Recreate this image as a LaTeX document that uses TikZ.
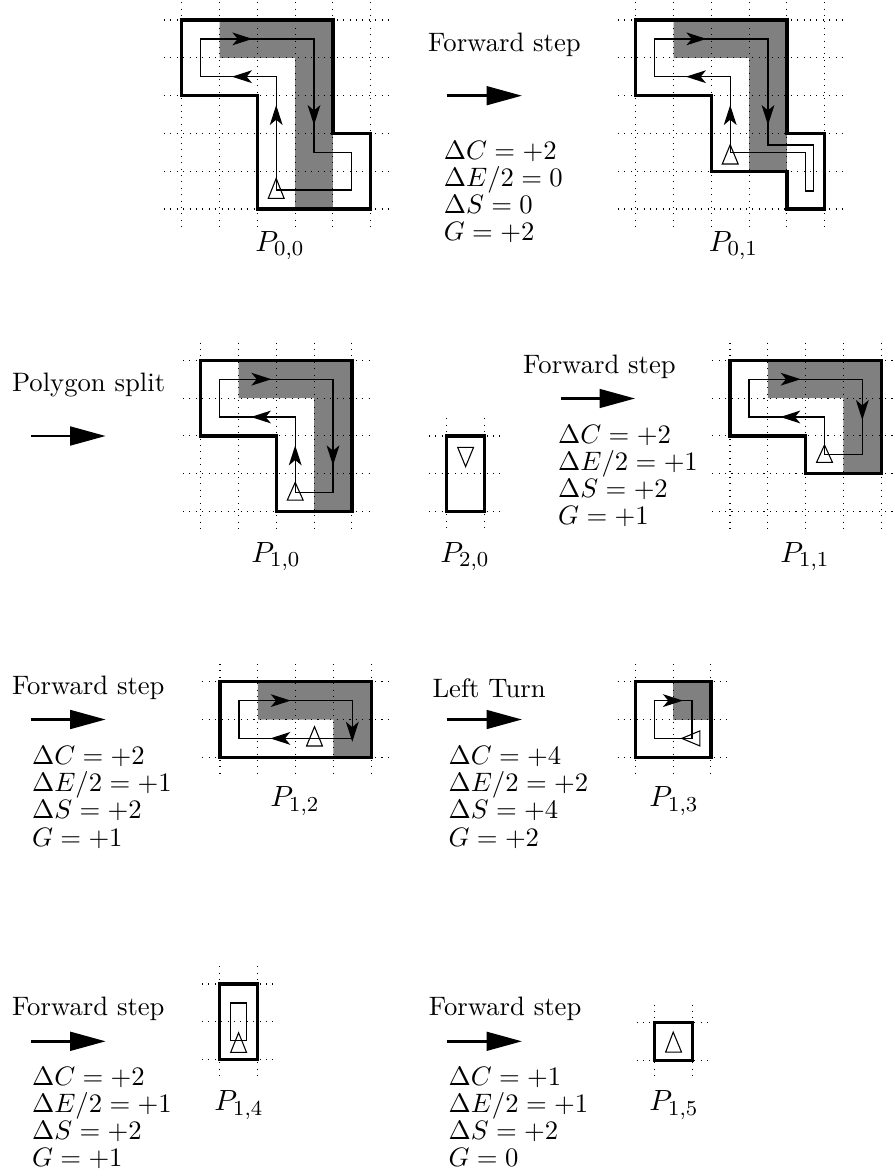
\documentclass[tikz,border=0pt]{standalone}
\usetikzlibrary{arrows.meta}
\newcommand{\pxu}{0.375pt}
\definecolor{shade}{gray}{0.5}
\tikzset{
  px/.style={x=\pxu,y=-\pxu},
  griddots/.style={dotted,line width=0.4pt,black},
  outline/.style={line width=1.2pt,line join=miter},
  route/.style={line width=0.5pt},
  marker/.style={line width=0.4pt},
  shaded/.style={fill=shade,draw=none},
  midhead/.style={line width=0.5pt,-{Stealth[length=7.5pt,width=4.8pt,inset=2pt]}},
  bigarrow/.style={line width=1pt,-{Triangle[length=13.3pt,width=7pt]}},
  label/.style={inner sep=0pt,anchor=center,font=\fontsize{10.95}{13}\selectfont},
  caption/.style={inner sep=0pt,anchor=west},
  deltas/.style={inner sep=0pt,anchor=north west,align=left,font=\fontsize{10}{10.2}\selectfont},
}
% #1 x, #2 y in pixels ; #3 columns, #4 rows, #5 shaded path, #6 drawing on top of the grid
\newcommand{\cellsat}[6]{%
  \begin{scope}[xshift=#1*\pxu,yshift=-#2*\pxu,x=14.175pt,y=-14.175pt]
    #5
    \foreach \i in {0,...,#3}{\draw[griddots] (\i,-0.47) -- (\i,#4+0.47);}
    \foreach \j in {0,...,#4}{\draw[griddots] (-0.47,\j) -- (#3+0.47,\j);}
    #6
  \end{scope}}
\newcommand{\headup}{\draw[midhead] (2.5,2.78) -- (2.5,2.25);}
\newcommand{\headleft}{\draw[midhead] (1.86,1.5) -- (1.33,1.5);}
\newcommand{\headright}{\draw[midhead] (1.35,0.5) -- (1.87,0.5);}
\begin{document}
\begin{tikzpicture}[px]
\useasboundingbox (0,0) rectangle (894,1176);

% P00
\cellsat{181.7}{20}{5}{5}{
  \fill[shaded] (1,0) -- (4,0) -- (4,5) -- (3,5) -- (3,1) -- (1,1) -- cycle;
}{
  \draw[outline] (0,0) -- (4,0) -- (4,3) -- (5,3) -- (5,5) -- (2,5) -- (2,2) -- (0,2) -- cycle;
  \draw[route] (2.5,4.5) -- (2.5,1.5) -- (0.5,1.5) -- (0.5,0.5) -- (3.5,0.5) -- (3.5,3.5) -- (4.5,3.5) -- (4.5,4.5) -- cycle;
  \draw[marker] (2.5,4.19) -- (2.29,4.72) -- (2.71,4.72) -- cycle;
  \headup \headleft \headright
  \draw[midhead] (3.5,2.25) -- (3.5,2.78);
}
\node[label] (p00) at (280,245.7) {$P_{0,0}$};

% step 1
\node[caption] (s1) at (427.7,45) {Forward step};
\coordinate (s1a) at (446.7,95.7); \coordinate (s1b) at (522,95.7);
\draw[bigarrow] (s1a) -- (s1b);
\node[deltas] (d1) at (443.3,140.5) {$\Delta C=+2$\\$\Delta E/2=0$\\$\Delta S=0$\\$G=+2$};

% P01
\cellsat{635.7}{20}{5}{5}{
  \fill[shaded] (1,0) -- (4,0) -- (4,4) -- (3,4) -- (3,1) -- (1,1) -- cycle;
}{
  \draw[outline] (0,0) -- (4,0) -- (4,3) -- (5,3) -- (5,5) -- (4,5) -- (4,4) -- (2,4) -- (2,2) -- (0,2) -- cycle;
  \draw[route] (2.5,3.5) -- (2.5,1.5) -- (0.5,1.5) -- (0.5,0.5) -- (3.5,0.5) -- (3.5,3.31) -- (4.7,3.31) -- (4.7,4.52) -- (4.5,4.52) -- (4.5,3.5) -- cycle;
  \draw[marker] (2.5,3.3) -- (2.29,3.81) -- (2.71,3.81) -- cycle;
  \headup \headleft \headright
  \draw[midhead] (3.5,2.25) -- (3.5,2.78);
}
\node[label] (p01) at (733.5,245.7) {$P_{0,1}$};

% split
\node[caption] (s2) at (11.5,385.3) {Polygon split};
\coordinate (s2a) at (30.8,436); \coordinate (s2b) at (105.7,436);
\draw[bigarrow] (s2a) -- (s2b);

% P10
\cellsat{200.7}{360.3}{4}{4}{
  \fill[shaded] (1,0) -- (4,0) -- (4,4) -- (3,4) -- (3,1) -- (1,1) -- cycle;
}{
  \draw[outline] (0,0) -- (4,0) -- (4,4) -- (2,4) -- (2,2) -- (0,2) -- cycle;
  \draw[route] (2.5,3.5) -- (2.5,1.5) -- (0.5,1.5) -- (0.5,0.5) -- (3.5,0.5) -- (3.5,3.5) -- cycle;
  \draw[marker] (2.5,3.23) -- (2.29,3.7) -- (2.71,3.7) -- cycle;
  \headup \headleft \headright
  \draw[midhead] (3.5,2.25) -- (3.5,2.78);
}
\node[label] (p10) at (276,556.7) {$P_{1,0}$};

% P20
\cellsat{446.7}{436}{1}{2}{}{
  \draw[outline] (0,0) rectangle (1,2);
  \draw[marker] (0.5,0.81) -- (0.29,0.3) -- (0.71,0.3) -- cycle;
}
\node[label] (p20) at (465,556.7) {$P_{2,0}$};

% step 2
\node[caption] (s3) at (522.7,366.7) {Forward step};
\coordinate (s3a) at (560.7,398.5); \coordinate (s3b) at (635,398.5);
\draw[bigarrow] (s3a) -- (s3b);
\node[deltas] (d3) at (557.6,424.5) {$\Delta C=+2$\\$\Delta E/2=+1$\\$\Delta S=+2$\\$G=+1$};

% P11
\cellsat{730}{360.3}{4}{4}{
  \fill[shaded] (1,0) -- (4,0) -- (4,3) -- (3,3) -- (3,1) -- (1,1) -- cycle;
}{
  \draw[outline] (0,0) -- (4,0) -- (4,3) -- (2,3) -- (2,2) -- (0,2) -- cycle;
  \draw[route] (2.5,2.5) -- (2.5,1.5) -- (0.5,1.5) -- (0.5,0.5) -- (3.5,0.5) -- (3.5,2.5) -- cycle;
  \draw[marker] (2.5,2.24) -- (2.29,2.7) -- (2.71,2.7) -- cycle;
  \headleft \headright
  \draw[midhead] (3.5,1.05) -- (3.5,1.58);
}
\node[label] (p11) at (805,556.7) {$P_{1,1}$};

% step 3
\node[caption] (s4) at (11.5,688) {Forward step};
\coordinate (s4a) at (30.8,719.5); \coordinate (s4b) at (105.7,719.5);
\draw[bigarrow] (s4a) -- (s4b);
\node[deltas] (d4) at (31.5,745.8) {$\Delta C=+2$\\$\Delta E/2=+1$\\$\Delta S=+2$\\$G=+1$};

% P12
\cellsat{220}{681.7}{4}{2}{
  \fill[shaded] (1,0) -- (4,0) -- (4,2) -- (3,2) -- (3,1) -- (1,1) -- cycle;
}{
  \draw[outline] (0,0) rectangle (4,2);
  \draw[route] (0.5,0.5) rectangle (3.5,1.5);
  \draw[marker] (2.5,1.19) -- (2.29,1.7) -- (2.71,1.7) -- cycle;
  \headleft \headright
  \draw[midhead] (3.5,1.04) -- (3.5,1.59);
}
\node[label] (p12) at (295,801) {$P_{1,2}$};

% step 4
\node[caption] (s5) at (432,688) {Left Turn};
\coordinate (s5a) at (446.7,719.5); \coordinate (s5b) at (522,719.5);
\draw[bigarrow] (s5a) -- (s5b);
\node[deltas] (d5) at (448,745.8) {$\Delta C=+4$\\$\Delta E/2=+2$\\$\Delta S=+4$\\$G=+2$};

% P13
\cellsat{635.3}{681.7}{2}{2}{
  \fill[shaded] (1,0) rectangle (2,1);
}{
  \draw[outline] (0,0) rectangle (2,2);
  \draw[route] (0.5,0.5) rectangle (1.5,1.5);
  \draw[marker] (1.23,1.5) -- (1.71,1.3) -- (1.71,1.7) -- cycle;
  \draw[midhead] (0.76,0.5) -- (1.26,0.5);
}
\node[label] (p13) at (674,801) {$P_{1,3}$};

% step 5
\node[caption] (s6) at (11.5,1009.3) {Forward step};
\coordinate (s6a) at (30.8,1041.3); \coordinate (s6b) at (105.7,1041.3);
\draw[bigarrow] (s6a) -- (s6b);
\node[deltas] (d6) at (31.5,1066.5) {$\Delta C=+2$\\$\Delta E/2=+1$\\$\Delta S=+2$\\$G=+1$};

% P14
\cellsat{219.7}{984}{1}{2}{}{
  \draw[outline] (0,0) rectangle (1,2);
  \draw[route] (0.29,0.5) rectangle (0.71,1.5);
  \draw[marker] (0.5,1.29) -- (0.29,1.81) -- (0.71,1.81) -- cycle;
}
\node[label] (p14) at (239,1105) {$P_{1,4}$};

% step 6
\node[caption] (s7) at (428.3,1009.3) {Forward step};
\coordinate (s7a) at (446.7,1041.3); \coordinate (s7b) at (522,1041.3);
\draw[bigarrow] (s7a) -- (s7b);
\node[deltas] (d7) at (448,1066.5) {$\Delta C=+1$\\$\Delta E/2=+1$\\$\Delta S=+2$\\$G=0$};

% P15
\cellsat{654.3}{1022.3}{1}{1}{}{
  \draw[outline] (0,0) rectangle (1,1);
  \draw[marker] (0.5,0.26) -- (0.3,0.79) -- (0.72,0.79) -- cycle;
}
\node[label] (p15) at (674,1105) {$P_{1,5}$};
\end{tikzpicture}
\end{document}
